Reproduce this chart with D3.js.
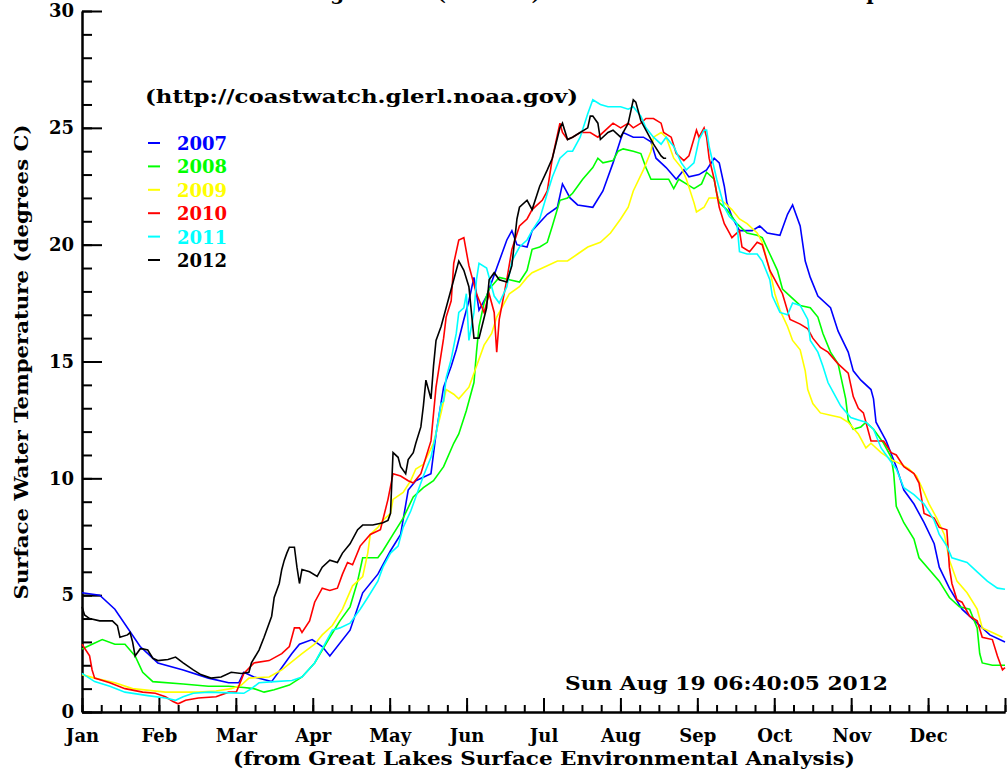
<!DOCTYPE html>
<html>
<head>
<meta charset="utf-8">
<script src="https://cdn.jsdelivr.net/npm/d3@7"></script>
<style>
  body { margin: 0; background: #fff; }
  text { font-family: "DejaVu Serif", serif; font-weight: bold; }
</style>
</head>
<body>
<div id="chart"></div>
<script>
//
// Surface water temperature, 2007 - 2012
//

// Axis labels
var months = ["Jan", "Feb", "Mar", "Apr", "May", "Jun", "Jul", "Aug", "Sep", "Oct", "Nov", "Dec"];
var yTicks = [0, 5, 10, 15, 20, 25, 30];
var years = ["2007", "2008", "2009", "2010", "2011", "2012"];

// Series values: [day of year, degrees C]
var t2007 = [[0,5.1],[7,5.0],[13,4.4],[23,2.8],[30,2.1],[40,1.8],[50,1.45],[58,1.25],[62,1.25],[64,1.7],[68,1.5],[75,1.3],[83,2.5],[86,2.9],[91,3.1],[95,2.8],[98,2.4],[106,3.5],[111,5.1],[117,5.9],[122,6.9],[126,7.6],[129,9.5],[132,9.9],[138,10.2],[140,11.9],[143,13.9],[146,14.8],[148,15.5],[151,16.8],[153,17.6],[155,18.6],[157,17.2],[160,17.8],[164,19.0],[168,20.2],[170,20.6],[172,20.0],[176,19.9],[178,20.6],[184,21.3],[188,21.6],[190,22.6],[193,22.0],[196,21.7],[202,21.6],[206,22.3],[210,23.5],[213,24.5],[214,24.8],[218,24.6],[222,24.6],[225,24.4],[227,23.7],[231,23.3],[235,22.8],[238,23.2],[240,22.9],[244,23.0],[247,23.2],[250,23.7],[252,23.5],[254,22.5],[255,21.8],[257,21.2],[260,20.6],[265,20.6],[268,20.8],[271,20.5],[276,20.4],[279,21.3],[281,21.7],[284,20.8],[286,19.3],[288,18.6],[291,17.8],[296,17.3],[299,16.3],[303,15.4],[305,14.6],[308,14.2],[312,13.8],[313,13.4],[314,12.4],[318,11.6],[322,10.5],[325,9.5],[329,8.9],[333,8.1],[337,7.2],[339,6.2],[343,5.3],[348,4.4],[354,3.8],[359,3.3],[365,3.0]];
var t2008 = [[0,2.7],[4,2.9],[8,3.1],[13,2.9],[17,2.9],[21,2.4],[24,1.7],[28,1.3],[40,1.2],[50,1.1],[58,1.1],[64,1.05],[68,1.0],[72,0.85],[76,0.95],[82,1.15],[87,1.5],[92,2.1],[98,3.2],[102,3.9],[106,4.5],[109,5.6],[111,6.6],[117,6.6],[119,6.9],[123,7.6],[127,8.3],[131,9.2],[135,9.6],[139,9.9],[143,10.5],[147,11.5],[149,11.9],[152,12.9],[155,14.1],[156,15.4],[157,16.5],[159,17.5],[161,18.1],[165,18.6],[169,18.5],[173,18.4],[176,18.9],[178,19.8],[181,19.9],[184,20.1],[186,20.8],[189,21.9],[192,22.0],[194,22.2],[198,22.8],[202,23.3],[204,23.7],[206,23.5],[210,23.6],[212,24.0],[214,24.1],[218,24.0],[221,23.9],[223,23.3],[225,22.8],[229,22.8],[232,22.8],[234,22.4],[236,22.8],[239,22.6],[242,22.4],[245,22.6],[247,23.1],[250,22.8],[251,22.2],[252,21.8],[255,21.5],[259,20.9],[263,20.5],[267,20.4],[269,20.3],[272,19.6],[275,18.9],[277,18.1],[280,17.8],[284,17.4],[288,17.3],[291,16.9],[293,16.2],[296,15.4],[299,14.9],[301,13.9],[302,13.4],[303,12.5],[305,12.1],[308,12.2],[310,12.4],[313,12.1],[317,11.5],[320,10.9],[321,10.2],[322,8.8],[325,8.1],[329,7.4],[331,6.6],[335,6.1],[339,5.6],[343,4.9],[347,4.5],[351,4.4],[354,3.6],[355,2.5],[356,2.1],[360,2.0],[365,2.0]];
var t2009 = [[0,1.6],[5,1.45],[13,1.25],[20,1.0],[33,0.85],[46,0.85],[53,0.9],[59,1.0],[63,1.15],[66,1.45],[74,1.5],[79,1.8],[87,2.5],[92,2.9],[95,3.3],[99,3.7],[103,4.4],[107,5.4],[111,5.8],[113,6.8],[114,7.6],[117,7.9],[119,8.2],[122,8.5],[123,9.1],[127,9.4],[130,9.9],[132,10.4],[135,10.6],[139,11.5],[142,12.8],[144,13.8],[147,13.6],[149,13.4],[153,13.9],[156,14.8],[159,15.7],[162,16.2],[164,16.9],[169,17.9],[173,18.2],[176,18.6],[178,18.8],[184,19.1],[188,19.3],[192,19.3],[196,19.6],[200,19.9],[205,20.1],[209,20.5],[213,21.1],[216,21.6],[218,22.3],[222,23.2],[225,24.0],[226,24.6],[229,24.8],[231,24.6],[234,23.7],[237,23.3],[239,22.8],[242,21.8],[243,21.4],[246,21.6],[248,22.0],[251,22.0],[254,21.8],[257,21.5],[260,21.1],[263,20.9],[267,20.5],[269,20.1],[272,18.9],[274,17.9],[276,17.2],[279,16.5],[281,15.9],[284,15.5],[286,14.6],[287,13.8],[289,13.2],[292,12.8],[296,12.7],[300,12.6],[303,12.4],[307,11.9],[310,11.3],[312,11.5],[316,11.1],[320,10.8],[324,10.6],[327,10.4],[330,10.1],[333,9.4],[335,8.9],[338,8.3],[341,7.6],[343,6.5],[346,5.6],[350,5.1],[354,4.4],[356,3.6],[360,3.4],[364,3.2]];
var t2010 = [[0,2.9],[3,2.4],[4,1.8],[5,1.45],[11,1.25],[17,1.0],[24,0.85],[29,0.8],[33,0.65],[36,0.45],[38,0.35],[41,0.5],[46,0.6],[53,0.65],[58,0.85],[61,0.85],[62,1.1],[64,1.65],[68,2.1],[74,2.2],[79,2.5],[82,2.8],[84,3.6],[86,3.6],[87,3.4],[90,3.9],[92,4.7],[95,5.3],[98,5.2],[101,5.3],[103,5.9],[105,6.4],[107,6.3],[110,7.1],[114,7.6],[118,7.8],[121,9.1],[123,10.2],[126,10.1],[129,9.9],[131,9.8],[134,10.2],[138,11.6],[140,13.9],[143,16.0],[144,16.9],[146,17.6],[147,19.2],[149,20.2],[151,20.3],[153,19.1],[156,17.9],[159,17.1],[161,17.9],[163,17.1],[164,15.4],[165,16.8],[168,18.5],[170,19.8],[173,20.8],[176,21.1],[178,21.5],[182,21.9],[184,22.3],[186,23.7],[189,25.2],[190,24.8],[192,24.5],[194,24.6],[197,24.8],[201,24.8],[204,24.6],[208,25.0],[210,25.2],[213,25.0],[216,25.2],[218,25.0],[221,25.2],[223,25.4],[226,25.4],[229,25.2],[230,24.8],[233,24.6],[235,23.9],[238,23.6],[240,23.8],[243,24.9],[244,24.6],[246,25.0],[247,24.6],[248,23.7],[250,22.8],[252,21.6],[254,20.9],[256,20.5],[257,20.3],[260,20.6],[261,19.9],[264,19.7],[267,20.1],[269,20.0],[272,18.9],[275,18.3],[277,17.9],[280,16.8],[284,16.6],[287,16.4],[289,16.0],[292,15.6],[295,15.4],[299,14.9],[303,14.5],[305,13.5],[307,13.0],[309,12.8],[312,11.6],[317,11.6],[320,11.1],[322,11.0],[325,10.5],[329,10.2],[331,9.8],[333,8.5],[337,8.3],[339,7.9],[342,7.8],[343,6.2],[344,5.5],[346,4.8],[348,4.7],[351,4.1],[354,3.9],[356,3.2],[360,3.1],[362,2.4],[364,1.8],[365,1.9]];
var t2011 = [[0,1.65],[5,1.3],[11,1.1],[17,0.85],[26,0.7],[33,0.6],[37,0.5],[40,0.65],[44,0.8],[50,0.85],[59,0.82],[64,0.8],[67,1.0],[70,1.25],[76,1.3],[83,1.35],[87,1.5],[92,2.1],[96,2.9],[99,3.5],[102,3.6],[106,3.8],[110,4.4],[113,4.9],[117,5.6],[119,6.2],[122,6.8],[125,7.1],[127,7.9],[130,8.6],[132,9.2],[135,10.1],[138,10.9],[140,11.9],[142,13.2],[143,13.3],[144,14.3],[146,15.1],[148,16.2],[149,17.1],[151,17.3],[152,17.9],[153,15.9],[155,17.1],[156,18.5],[157,19.2],[160,19.0],[163,17.8],[165,17.5],[168,18.2],[170,19.3],[173,19.9],[176,20.2],[178,20.6],[181,21.1],[184,22.2],[186,22.9],[189,23.7],[192,24.0],[194,24.0],[197,24.6],[200,25.6],[202,26.2],[205,26.0],[208,25.9],[210,25.9],[213,25.9],[216,25.8],[218,25.9],[221,25.5],[223,25.0],[226,24.6],[229,24.3],[231,24.6],[234,24.2],[237,23.5],[239,23.2],[242,23.5],[244,24.5],[246,24.9],[247,24.9],[248,24.2],[251,22.8],[254,21.6],[256,21.2],[259,20.9],[260,19.7],[263,19.6],[267,19.6],[269,19.3],[272,18.5],[273,17.8],[276,17.1],[279,17.0],[281,17.5],[284,17.4],[287,16.8],[288,15.9],[291,15.4],[293,14.8],[295,14.1],[297,13.7],[300,13.1],[304,12.6],[307,12.5],[310,12.4],[313,12.1],[316,11.3],[318,11.0],[322,10.4],[325,9.6],[329,9.3],[333,8.9],[337,8.2],[339,7.6],[342,7.1],[344,6.6],[350,6.4],[354,6.0],[358,5.6],[362,5.3],[365,5.25]];
var t2012 = [[0,4.5],[1,4.15],[3,4.0],[7,3.9],[12,3.9],[14,3.7],[15,3.2],[18,3.3],[19,3.4],[20,3.0],[21,2.4],[23,2.7],[24,2.7],[26,2.65],[28,2.3],[30,2.2],[34,2.25],[37,2.35],[40,2.1],[44,1.8],[47,1.6],[51,1.45],[55,1.5],[59,1.7],[63,1.65],[66,1.7],[67,2.1],[70,2.65],[72,3.2],[75,4.1],[76,4.9],[78,5.5],[79,6.1],[80,6.5],[81,6.8],[82,7.05],[84,7.05],[85,6.2],[86,5.5],[87,6.1],[90,6.0],[93,5.8],[95,6.2],[98,6.5],[101,6.4],[103,6.8],[106,7.2],[109,7.8],[111,8.0],[115,8.0],[119,8.1],[121,8.2],[122,8.5],[123,11.1],[125,10.9],[126,10.5],[128,10.2],[129,10.8],[131,11.1],[132,11.5],[134,12.2],[135,13.1],[136,14.2],[138,13.4],[139,14.8],[140,15.9],[142,16.5],[144,17.3],[147,18.5],[149,19.3],[151,18.9],[153,18.2],[155,16.0],[157,16.0],[160,17.3],[161,18.5],[163,18.8],[165,18.5],[168,18.4],[170,19.1],[172,21.1],[173,21.6],[176,21.9],[178,21.5],[181,22.5],[184,23.2],[186,23.7],[189,25.0],[190,25.2],[192,24.5],[194,24.6],[197,24.8],[200,25.0],[201,25.5],[202,25.5],[204,25.2],[205,24.5],[208,24.8],[210,24.9],[213,24.6],[216,25.2],[218,26.2],[219,26.1],[221,25.3],[223,24.9],[226,24.3],[229,23.8],[230,23.7],[231,23.7]];

var series = [t2007, t2008, t2009, t2010, t2011, t2012];
var colors = ["#0000ff", "#00ff00", "#ffff00", "#ff0000", "#00ffff", "#000000"];

// Canvas
var svg = d3.select("#chart")
    .append("svg")
    .attr("width", 1007)
    .attr("height", 773);

// Scales: the year is split in 12 equal months
var x = d3.scaleLinear().domain([0, 365]).range([82, 1005]);
var y = d3.scaleLinear().domain([0, 30]).range([712, 11]);

var monthTicks = d3.range(0, 13).map(function(i) { return 365 / 12 * i; });
var quarterTicks = d3.range(0, 49).map(function(i) { return 365 / 48 * i; });

// X axis: minor ticks, then major ticks with month names
svg.append("g")
    .attr("transform", "translate(0,712)")
    .call(d3.axisBottom(x).tickValues(quarterTicks).tickSize(-7).tickSizeOuter(0).tickFormat(""));
svg.append("g")
    .attr("transform", "translate(0,712)")
    .call(d3.axisBottom(x).tickValues(monthTicks).tickSize(-14).tickSizeOuter(0).tickPadding(17)
        .tickFormat(function(d, i) { return months[i] || ""; }));

// Y axis: minor ticks every degree, labels every 5
svg.append("g")
    .attr("transform", "translate(82,0)")
    .call(d3.axisLeft(y).tickValues(d3.range(0, 31)).tickSize(-10).tickSizeOuter(0).tickFormat(""));
svg.append("g")
    .attr("transform", "translate(82,0)")
    .call(d3.axisLeft(y).tickValues(yTicks).tickSize(-20).tickSizeOuter(0).tickPadding(8));

svg.selectAll(".domain, .tick line")
    .attr("stroke", "#000")
    .attr("stroke-width", 2);
svg.selectAll(".tick text")
    .attr("fill", "#000")
    .style("font-size", "18px");

// The lines
var line = d3.line()
    .x(function(d) { return x(d[0]); })
    .y(function(d) { return y(d[1]); });

svg.selectAll(".series")
    .data(series)
    .enter()
    .append("path")
    .attr("class", "series")
    .attr("d", line)
    .attr("fill", "none")
    .attr("stroke", function(d, i) { return colors[i]; })
    .attr("stroke-width", 1.6);

// Title (cut off by the top of the picture)
svg.append("text")
    .attr("x", 260).attr("y", 0)
    .attr("textLength", 714).attr("lengthAdjust", "spacing")
    .style("font-size", "20px")
    .text("Average Lake (GLSEA) Mean Surface Water Temperature");

// Source and legend
svg.append("text")
    .attr("x", 145).attr("y", 103)
    .attr("textLength", 433).attr("lengthAdjust", "spacingAndGlyphs")
    .style("font-size", "18px")
    .text("(http://coastwatch.glerl.noaa.gov)");

years.forEach(function(yr, i) {
    var ly = 143 + i * 23.4;
    svg.append("line")
        .attr("x1", 148).attr("x2", 160)
        .attr("y1", ly).attr("y2", ly)
        .attr("stroke", colors[i]).attr("stroke-width", 2);
    svg.append("text")
        .attr("x", 177).attr("y", ly + 7)
        .attr("fill", colors[i])
        .style("font-size", "18px")
        .text(yr);
});

// Time stamp
svg.append("text")
    .attr("x", 565).attr("y", 690)
    .attr("textLength", 323).attr("lengthAdjust", "spacingAndGlyphs")
    .style("font-size", "18px")
    .text("Sun Aug 19 06:40:05 2012");

// Axis titles
svg.append("text")
    .attr("x", 233).attr("y", 765)
    .attr("textLength", 622).attr("lengthAdjust", "spacingAndGlyphs")
    .style("font-size", "18px")
    .text("(from Great Lakes Surface Environmental Analysis)");

svg.append("text")
    .attr("transform", "translate(28,362) rotate(-90)")
    .attr("text-anchor", "middle")
    .attr("textLength", 475).attr("lengthAdjust", "spacingAndGlyphs")
    .style("font-size", "18px")
    .text("Surface Water Temperature (degrees C)");
</script>
</body>
</html>
